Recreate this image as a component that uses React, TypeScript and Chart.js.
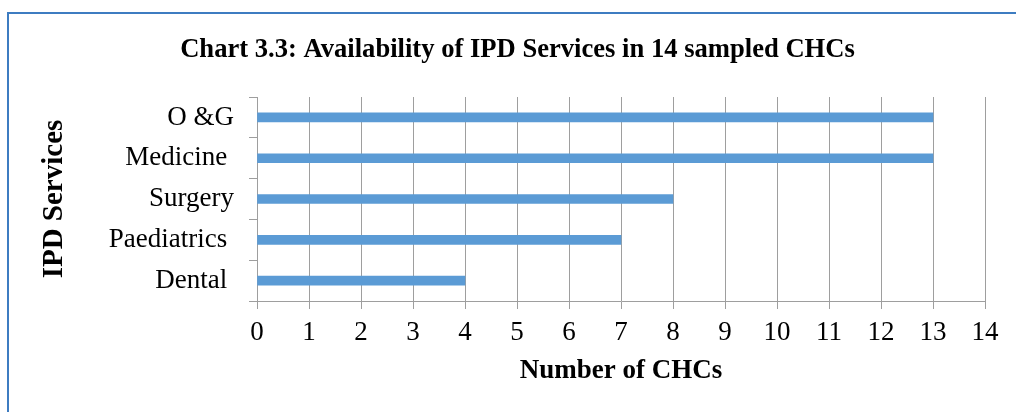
import React, { useEffect, useRef } from "react";
import { Chart, registerables } from "chart.js";

Chart.register(...registerables);

const chartTitle = "Chart 3.3: Availability of IPD Services in 14 sampled CHCs";
const categories = ["O &G", "Medicine ", "Surgery", "Paediatrics ", "Dental "];
const chcCounts = [13, 13, 8, 7, 4];
const xAxisTitle = "Number of CHCs";
const yAxisTitle = "IPD Services";
const xMin = 0;
const xMax = 14;
const xStep = 1;

const FONT = "'Liberation Serif', 'Times New Roman', serif";
const GRID = "#9e9e9e";

export default function App() {
  const ref = useRef<HTMLCanvasElement | null>(null);

  useEffect(() => {
    if (!ref.current) return;
    const chart = new Chart(ref.current, {
      type: "bar",
      data: {
        labels: categories,
        datasets: [
          {
            data: chcCounts,
            backgroundColor: "#5B9BD5",
            borderWidth: 0,
            barThickness: 9,
          },
        ],
      },
      options: {
        indexAxis: "y",
        animation: false,
        responsive: false,
        devicePixelRatio: 1,
        layout: { padding: { left: 50, right: 31, top: 0, bottom: 0 } },
        plugins: {
          legend: { display: false },
          tooltip: { enabled: false },
          title: {
            display: true,
            text: chartTitle,
            color: "#000",
            font: { family: FONT, size: 26.6, weight: "bold" },
            padding: { top: 34.5, bottom: 30.6 },
          },
        },
        scales: {
          x: {
            type: "linear",
            min: xMin,
            max: xMax,
            ticks: {
              stepSize: xStep,
              color: "#000",
              font: { family: FONT, size: 27 },
              padding: 8,
              maxRotation: 0,
            },
            grid: { color: GRID, lineWidth: 1, tickLength: 8, drawTicks: true },
            border: { color: GRID, width: 1 },
            title: {
              display: true,
              text: xAxisTitle,
              color: "#000",
              font: { family: FONT, size: 27, weight: "bold" },
              padding: { top: 0, bottom: 24.8 },
            },
            afterFit: (scale: any) => {
              scale.height = 111;
            },
          },
          y: {
            type: "category",
            ticks: {
              color: "#000",
              font: { family: FONT, size: 27 },
              padding: 15,
            },
            grid: {
              color: GRID,
              lineWidth: 1,
              tickLength: 8,
              drawOnChartArea: false,
              drawTicks: true,
              offset: true,
            },
            border: { color: GRID, width: 1 },
            title: {
              display: true,
              text: yAxisTitle,
              color: "#000",
              font: { family: FONT, size: 29, weight: "bold" },
              padding: { top: -12.4, bottom: 0 },
            },
            afterFit: (scale: any) => {
              scale.width = 207;
            },
          },
        },
      },
    });
    return () => chart.destroy();
  }, []);

  return (
    <div style={{ position: "fixed", left: 0, top: 0, width: 1016, height: 412, background: "#fff" }}>
      <div
        style={{
          position: "absolute",
          left: 7,
          top: 12,
          width: 1100,
          height: 500,
          borderTop: "2px solid #3d7cc1",
          borderLeft: "2px solid #3d7cc1",
        }}
      />
      <canvas ref={ref} width={1016} height={412} style={{ position: "absolute", left: 0, top: 0, display: "block" }} />
    </div>
  );
}
